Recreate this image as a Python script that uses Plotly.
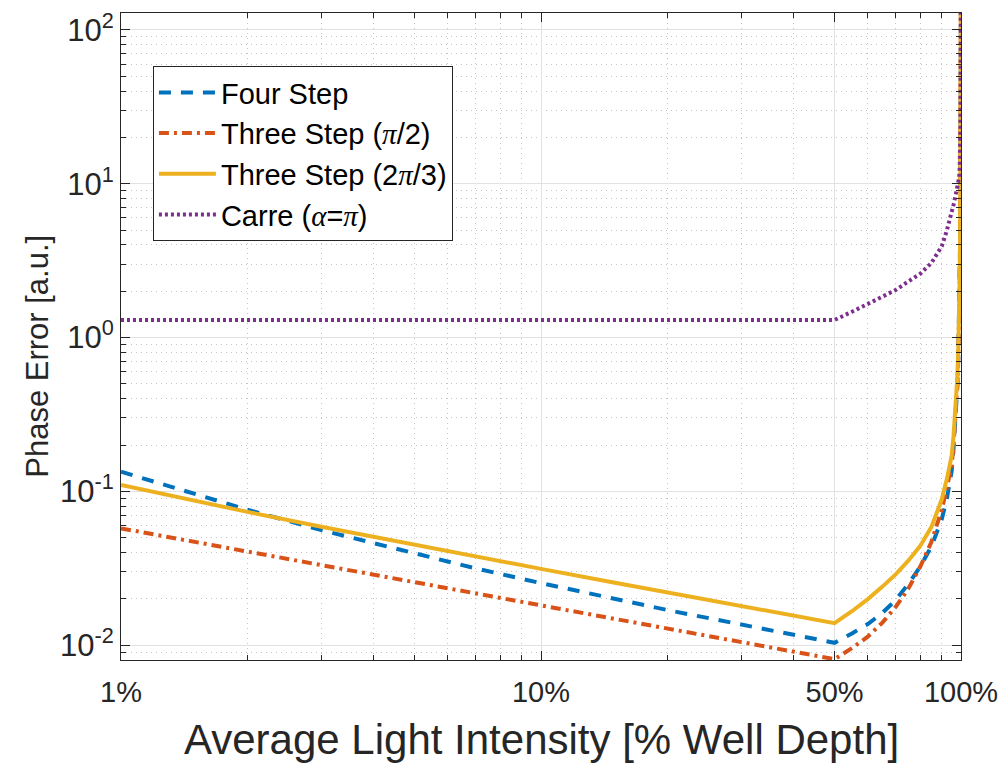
import plotly.graph_objects as go
import math

# Average light intensity (fraction of well depth)
intensity = [0.01, 0.015, 0.02, 0.03, 0.05, 0.07, 0.1, 0.15, 0.2, 0.3, 0.4, 0.5,
             0.55, 0.6, 0.65, 0.7, 0.75, 0.8, 0.85, 0.9, 0.925, 0.95,
             0.96, 0.97, 0.98, 0.985, 0.99, 0.993, 0.995, 0.997, 0.998, 0.999, 0.9995]

four_step = [0.134, 0.0955, 0.0759, 0.0559, 0.0392, 0.0315, 0.0253, 0.0199, 0.0169,
             0.0136, 0.0116, 0.01035,
             0.0119, 0.0137, 0.0162, 0.0197, 0.0251, 0.0324, 0.0437, 0.066, 0.089, 0.135,
             0.19, 0.28, 0.48, 0.72, 1.3, 2.3, 4.2, 9.5, 28, 75, 190]

three_step_pi2 = [0.0574, 0.0469, 0.0406, 0.0331, 0.0257, 0.0217, 0.0182, 0.0148, 0.0128,
                  0.0105, 0.0091, 0.0081,
                  0.00955, 0.01135, 0.0140, 0.0178, 0.0234, 0.0324, 0.0468, 0.0759, 0.105, 0.148,
                  0.20, 0.29, 0.49, 0.73, 1.3, 2.35, 4.3, 9.7, 28, 76, 195]

three_step_2pi3 = [0.110, 0.0866, 0.0735, 0.0588, 0.0448, 0.0376, 0.0313, 0.0254, 0.0220,
                   0.0179, 0.0155, 0.0139,
                   0.0166, 0.0199, 0.0240, 0.0289, 0.0355, 0.0442, 0.0585, 0.0887, 0.1197, 0.17,
                   0.23, 0.33, 0.55, 0.8, 1.4, 2.5, 4.5, 10, 30, 80, 200]

carre = [1.30, 1.30, 1.30, 1.30, 1.30, 1.30, 1.30, 1.30, 1.30, 1.30, 1.30, 1.30,
         1.47, 1.65, 1.84, 2.04, 2.32, 2.60, 3.05, 3.92, 4.95, 6.4,
         7.3, 8.3, 9.3, 10.0, 11.0, 13.0, 16.0, 25.0, 40.0, 90.0, 250.0]

x_tickvals = [0.01, 0.1, 0.5, 1.0]
x_ticktext = ["1%", "10%", "50%", "100%"]
x_minor = [0.02, 0.03, 0.04, 0.05, 0.06, 0.07, 0.08, 0.09,
           0.2, 0.3, 0.4, 0.6, 0.7, 0.8, 0.9]
y_tickvals = [0.01, 0.1, 1, 10, 100]
y_ticktext = ["10<sup>-2</sup>", "10<sup>-1</sup>", "10<sup>0</sup>",
              "10<sup>1</sup>", "10<sup>2</sup>"]
y_minor = [m * 10 ** e for e in range(-3, 3) for m in range(2, 10)]

SERIF = "<span style='font-family:Liberation Serif, Times New Roman, serif'><i>%s</i></span>"
names = ["Four Step",
         "Three Step (" + SERIF % "π" + "/2)",
         "Three Step (2" + SERIF % "π" + "/3)",
         "Carre (" + SERIF % "α" + "=" + SERIF % "π" + ")"]
colors = ["#0072BD", "#D95319", "#EDB120", "#7E2F8E"]
dashes = ["12px,10px", "10px,5px,3px,5px", "solid", "3px,3px"]
series = [four_step, three_step_pi2, three_step_2pi3, carre]

fig = go.Figure()
for name, ys, c, d in zip(names, series, colors, dashes):
    fig.add_trace(go.Scatter(x=intensity, y=ys, mode="lines", name=name,
                             line=dict(color=c, width=4, dash=d)))

axis_common = dict(
    showline=True, linecolor="#262626", linewidth=1, mirror="allticks",
    ticks="inside", ticklen=9, tickwidth=1, tickcolor="#262626",
    showgrid=True, gridcolor="#e2e2e2", gridwidth=1,
    zeroline=False, automargin=False,
)
minor_common = dict(tickmode="array", ticks="inside", ticklen=5, tickcolor="#262626",
                    showgrid=True, gridcolor="#c4c4c4", griddash="1px,4px", gridwidth=1)

fig.update_xaxes(type="log", range=[-2, 0], tickmode="array",
                 tickvals=x_tickvals, ticktext=x_ticktext, ticklabelstandoff=6,
                 tickfont=dict(family="Liberation Sans, Arial, sans-serif", size=29, color="#262626"),
                 minor=dict(tickvals=x_minor, **minor_common),
                 **axis_common)
fig.update_yaxes(type="log", range=[math.log10(0.008), math.log10(128.8)], tickmode="array",
                 tickvals=y_tickvals, ticktext=y_ticktext, ticklabelstandoff=0,
                 tickfont=dict(family="Liberation Sans, Arial, sans-serif", size=31, color="#262626"),
                 minor=dict(tickvals=y_minor, **minor_common),
                 **axis_common)

fig.update_layout(
    width=1004, height=763,
    margin=dict(l=121, r=43, t=13, b=103),
    paper_bgcolor="white", plot_bgcolor="white",
    font=dict(family="Liberation Sans, Arial, sans-serif", color="#262626"),
    showlegend=True,
    legend=dict(x=0.038, y=0.918, xanchor="left", yanchor="top",
                bgcolor="white", bordercolor="#262626", borderwidth=1,
                font=dict(size=29, color="black", family="Liberation Sans, Arial, sans-serif"),
                itemwidth=57, tracegroupgap=0),
    annotations=[
        dict(text="Average Light Intensity [% Well Depth]", xref="paper", yref="paper",
             x=0.5, y=-0.123, xanchor="center", yanchor="middle", showarrow=False,
             font=dict(size=42, color="#262626")),
        dict(text="Phase Error [a.u.]", xref="paper", yref="paper",
             x=-0.099, y=0.47, xanchor="center", yanchor="middle", showarrow=False,
             textangle=-90, font=dict(size=31, color="#262626")),
    ],
)

fig.write_html("out.html")
